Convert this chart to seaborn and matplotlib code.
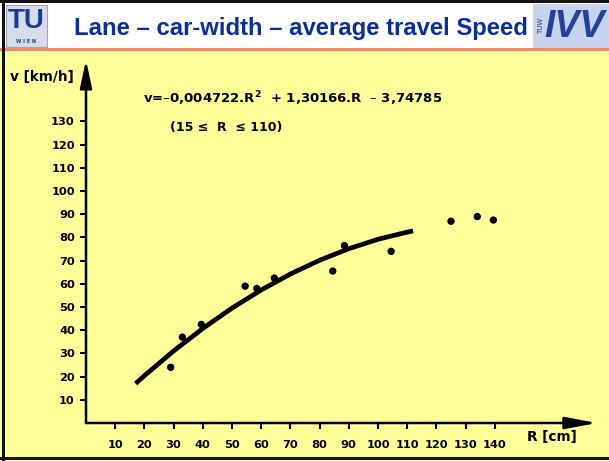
import matplotlib
matplotlib.use("Agg")
import matplotlib.pyplot as plt
import matplotlib.patches as mpatches
import seaborn as sns
import pandas as pd

# ---- data ----
R_obs = [29, 33, 39.5, 54.5, 58.5, 64.5, 84.5, 88.5, 104.5, 125, 134, 139.5]
v_obs = [24, 37, 42.5, 59, 58, 62.5, 65.5, 76.5, 74, 87, 89, 87.5]
R_fit = [17, 20, 30, 40, 50, 60, 70, 80, 90, 100, 110, 112]
v_fit = [17.0, 20.4, 31.05, 40.76, 49.53, 57.35, 64.23, 70.16, 75.15, 79.2, 82.3, 82.81]
x_ticks = [10, 20, 30, 40, 50, 60, 70, 80, 90, 100, 110, 120, 130, 140]
y_ticks = [10, 20, 30, 40, 50, 60, 70, 80, 90, 100, 110, 120, 130]
title = "Lane – car-width – average travel Speed"
equation = "v=–0,004722.R$^{\\mathbf{2}}$  + 1,30166.R  – 3,74785"
validity = "(15 ≤  R  ≤ 110)"

obs = pd.DataFrame({"R": R_obs, "v": v_obs})
fit = pd.DataFrame({"R": R_fit, "v": v_fit})

sns.set_theme(style="white")
plt.rcParams["font.family"] = ["DejaVu Sans"]
plt.rcParams["mathtext.fontset"] = "dejavusans"

W, H = 609, 461
YELLOW = "#ffff99"
NAVY = "#0a2e9a"
fig = plt.figure(figsize=(W / 100, H / 100), dpi=100)
fig.patch.set_facecolor(YELLOW)

def rect(x0, y0, x1, y1, **kw):
    fig.patches.append(mpatches.Rectangle((x0 / W, 1 - y1 / H), (x1 - x0) / W, (y1 - y0) / H,
                                          transform=fig.transFigure, **kw))

# header
rect(0, 0, W, 48, facecolor="white", edgecolor="none")
rect(0, 48, W, 50.5, facecolor="#f08a6a", edgecolor="none")
# frame
rect(0, 0, W, 3.5, facecolor="#111111", edgecolor="none")
rect(2, 0, 5, H, facecolor="#111111", edgecolor="none")
rect(0, 456.5, W, 459.5, facecolor="#111111", edgecolor="none")
# TU logo
rect(6, 5, 47, 47, facecolor="#d6dcea", edgecolor="#9aa6c8", lw=0.8)
fig.text(26.5 / W, 1 - 21 / H, "TU", color="#1a3a9a", fontsize=20, fontweight="bold",
         family=["Liberation Sans", "DejaVu Sans"], ha="center", va="center")
fig.text(26.5 / W, 1 - 41.5 / H, "W I E N", color="#1a3a9a", fontsize=3.5, fontweight="bold",
         ha="center", va="center")
# IVV logo
rect(533, 4, W, 48, facecolor="#c8d4ee", edgecolor="none")
fig.text(541 / W, 1 - 26 / H, "TUW", color="#1a3a9a", fontsize=5, rotation=90,
         ha="center", va="center")
fig.text(575 / W, 1 - 27 / H, "IVV", color="#23409c", fontsize=27, fontweight="bold",
         style="italic", family=["Liberation Sans", "DejaVu Sans"], ha="center", va="center")
# title
fig.text(301 / W, 1 - 29 / H, title, color=NAVY, fontsize=17.2, fontweight="bold",
         family=["Liberation Sans", "DejaVu Sans"], ha="center", va="center")

# ---- plot axes ----
ax = fig.add_axes([86 / W, 38 / H, 511 / W, 363 / H])
ax.set_facecolor("none")
ax.set_xlim(0, 175)
ax.set_ylim(0, 156.5)
for s in ax.spines.values():
    s.set_visible(False)

sns.lineplot(data=fit, x="R", y="v", ax=ax, color="black", linewidth=3.4,
             solid_capstyle="butt", sort=True, estimator=None)
sns.scatterplot(data=obs, x="R", y="v", ax=ax, color="black", s=28, edgecolor="none")

ax.annotate("", xy=(175, 0), xytext=(0, 0),
            arrowprops=dict(arrowstyle="-|>,head_length=1.6,head_width=0.3", lw=1.8,
                            color="black", shrinkA=0, shrinkB=0), annotation_clip=False)
ax.annotate("", xy=(0, 156.5), xytext=(0, 0),
            arrowprops=dict(arrowstyle="-|>,head_length=1.4,head_width=0.3", lw=1.8,
                            color="black", shrinkA=0, shrinkB=0), annotation_clip=False)

ax.set_xticks(x_ticks)
ax.set_xticklabels([str(t) for t in x_ticks])
ax.set_yticks(y_ticks)
ax.set_yticklabels([str(t) for t in y_ticks])
ax.tick_params(axis="both", which="both", direction="out", length=4, width=1.5,
               color="black", labelsize=8.2, labelcolor="black")
ax.tick_params(axis="x", pad=8)
ax.tick_params(axis="y", pad=4)
ax.xaxis.set_ticks_position("bottom")
ax.yaxis.set_ticks_position("left")
for lab in ax.get_xticklabels() + ax.get_yticklabels():
    lab.set_fontweight("bold")
ax.set_xlabel("")
ax.set_ylabel("")
ax.grid(False)

txt_kw = dict(color="black", fontweight="bold", transform=fig.transFigure)
fig.text(10 / W, 1 - 77 / H, "v [km/h]", fontsize=9.8, ha="left", va="center", **txt_kw)
fig.text(527 / W, 1 - 437 / H, "R [cm]", fontsize=9.8, ha="left", va="center", **txt_kw)
fig.text(143 / W, 1 - 99 / H, equation, fontsize=9.5, ha="left", va="center", **txt_kw)
fig.text(170 / W, 1 - 127 / H, validity, fontsize=9, ha="left", va="center", **txt_kw)

fig.savefig("out.png", dpi=100, facecolor=fig.get_facecolor())
